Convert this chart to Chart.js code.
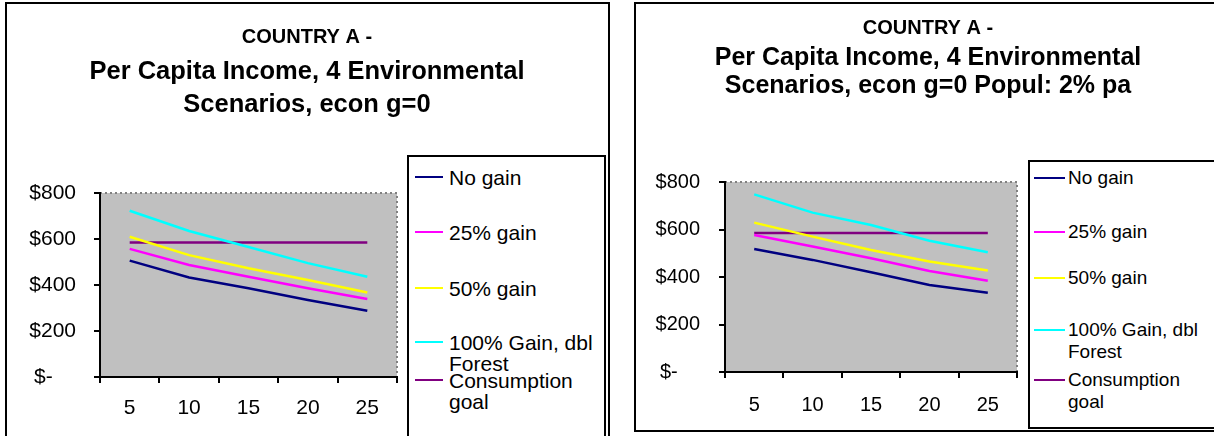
<!DOCTYPE html>
<html>
<head>
<meta charset="utf-8">
<script src="https://cdn.jsdelivr.net/npm/chart.js@4/dist/chart.umd.min.js"></script>
<style>
  html, body { margin: 0; padding: 0; background: #fff; overflow: hidden; }
  body { width: 1214px; height: 436px; position: relative; font-family: "Liberation Sans", Arial, sans-serif; }
  .frame { position: absolute; border: 2px solid #000; box-sizing: border-box; }
  .panel { position: absolute; top: 0; height: 436px; }
  .legend { position: absolute; border: 2px solid #000; background: #fff; box-sizing: border-box; overflow: hidden; }
  .legend .item { position: absolute; display: flex; align-items: flex-start; color: #000; }
  .legend .swatch { height: 2px; flex: none; }
</style>
</head>
<body>
<div class="frame" style="left:5px; top:2px; width:605px; height:460px;"></div>
<div class="panel" style="left:2px; width:610px;"><canvas id="chartA"></canvas></div>
<div class="legend" id="legendA" style="left:407px; top:155px; width:199px; height:300px;"></div>

<div class="frame" style="left:634px; top:2px; width:700px; height:430px;"></div>
<div class="panel" style="left:636px; width:584px;"><canvas id="chartB"></canvas></div>
<div class="legend" id="legendB" style="left:1028px; top:160px; width:300px; height:269px;"></div>

<script>
Chart.defaults.font.family = '"Liberation Sans", Arial, sans-serif';
Chart.defaults.color = '#000';

const years = ['5', '10', '15', '20', '25'];
const tickValues = [0, 200, 400, 600, 800];
const seriesNames = ['No gain', '25% gain', '50% gain', '100% Gain, dbl Forest', 'Consumption goal'];
const seriesColors = ['#000080', '#FF00FF', '#FFFF00', '#00FFFF', '#800080'];

// econ g=0
const noGainA = [506, 433, 386, 335, 288];
const gain25A = [557, 487, 436, 386, 339];
const gain50A = [610, 530, 473, 422, 367];
const gain100A = [723, 635, 565, 495, 436];
const goalA = [585, 585, 585, 585, 585];

// econ g=0, population 2% pa
const noGainB = [518, 472, 420, 366, 334];
const gain25B = [577, 528, 479, 425, 384];
const gain50B = [629, 570, 514, 465, 427];
const gain100B = [748, 671, 619, 553, 504];
const goalB = [585, 585, 585, 585, 585];

// gray plot area with a dotted top and right edge
const plotBackground = {
  id: 'plotBackground',
  beforeDraw(chart) {
    const { ctx, chartArea: a } = chart;
    ctx.save();
    ctx.fillStyle = '#C0C0C0';
    ctx.fillRect(a.left, a.top, a.right - a.left, a.bottom - a.top);
    ctx.strokeStyle = '#808080';
    ctx.lineWidth = 2;
    ctx.setLineDash([2, 3]);
    ctx.beginPath();
    ctx.moveTo(a.left, a.top);
    ctx.lineTo(a.right, a.top);
    ctx.lineTo(a.right, a.bottom);
    ctx.stroke();
    ctx.restore();
  }
};

function buildLegend(chart, el, opt) {
  chart.data.datasets.forEach((ds, i) => {
    const item = document.createElement('div');
    item.className = 'item';
    item.style.left = opt.left + 'px';
    item.style.top = opt.rowTops[i] + 'px';
    item.style.fontSize = opt.fontSize + 'px';
    item.style.lineHeight = opt.lineHeight + 'px';
    const sw = document.createElement('span');
    sw.className = 'swatch';
    sw.style.width = opt.swatch + 'px';
    sw.style.marginRight = opt.gap + 'px';
    sw.style.marginTop = (opt.lineHeight / 2 - 1) + 'px';
    sw.style.background = ds.borderColor;
    const txt = document.createElement('span');
    txt.style.width = opt.textWidth + 'px';
    txt.textContent = ds.label;
    item.appendChild(sw);
    item.appendChild(txt);
    el.appendChild(item);
  });
}

function makeChart(id, series, opt) {
  const canvas = document.getElementById(id);
  return new Chart(canvas, {
    type: 'line',
    data: {
      labels: years,
      datasets: series.map((values, i) => ({
        label: seriesNames[i],
        data: values,
        borderColor: seriesColors[i],
        backgroundColor: seriesColors[i],
        borderWidth: 2.5,
        pointRadius: 0,
        tension: 0,
        fill: false,
      })),
    },
    options: {
      responsive: true,
      maintainAspectRatio: false,
      animation: false,
      layout: { padding: 0 },
      scales: {
        x: {
          type: 'category',
          offset: true,
          grid: { offset: true, drawOnChartArea: false, color: '#000', lineWidth: 2, tickLength: 6 },
          border: { color: '#000', width: 2 },
          ticks: { font: { size: opt.axisFont }, padding: opt.xPad, maxRotation: 0 },
          afterFit(scale) { scale.height = opt.xHeight; },
        },
        y: {
          min: 0,
          max: 800,
          afterBuildTicks(scale) { scale.ticks = tickValues.map((v) => ({ value: v })); },
          grid: { drawOnChartArea: false, color: '#000', lineWidth: 2, tickLength: 6 },
          border: { color: '#000', width: 2 },
          ticks: {
            font: { size: opt.axisFont },
            padding: opt.yPad,
            callback: (v) => (v === 0 ? '$-    ' : '$' + v),
          },
          afterFit(scale) { scale.width = opt.yWidth; },
        },
        // empty right-hand band that leaves room for the legend box
        legendSpace: {
          type: 'linear',
          position: 'right',
          display: true,
          grid: { display: false },
          ticks: { display: false },
          border: { display: false },
          afterFit(scale) { scale.width = opt.rightWidth; },
        },
      },
      plugins: {
        legend: { display: false },
        tooltip: { enabled: false },
        title: {
          display: true,
          text: 'COUNTRY A -',
          font: { size: 20, weight: 'bold', lineHeight: 1.2 },
          padding: { top: opt.titleTop, bottom: 0 },
        },
        subtitle: {
          display: true,
          text: opt.subtitle,
          color: '#000',
          font: { size: opt.subFont, weight: 'bold', lineHeight: opt.subLine },
          padding: { top: opt.subTop, bottom: opt.subBottom },
        },
      },
    },
    plugins: [plotBackground],
  });
}

const chartA = makeChart('chartA', [noGainA, gain25A, gain50A, gain100A, goalA], {
  yWidth: 98, rightWidth: 215, xHeight: 59, axisFont: 21, xPad: 13, yPad: 18,
  titleTop: 25, subtitle: ['Per Capita Income, 4 Environmental', 'Scenarios, econ g=0'],
  subFont: 25.5, subLine: 33 / 25.5, subTop: 6.5, subBottom: 71.5,
});
buildLegend(chartA, document.getElementById('legendA'), {
  left: 6, swatch: 28, gap: 6, fontSize: 21, lineHeight: 21, textWidth: 152,
  rowTops: [9.5, 64.5, 120.5, 174.5, 212.5],
});

const chartB = makeChart('chartB', [noGainB, gain25B, gain50B, gain100B, goalB], {
  yWidth: 89, rightWidth: 203, xHeight: 64, axisFont: 20, xPad: 15, yPad: 19,
  titleTop: 16, subtitle: ['Per Capita Income, 4 Environmental', 'Scenarios, econ g=0 Popul: 2% pa'],
  subFont: 25, subLine: 28 / 25, subTop: 4, subBottom: 82,
});
buildLegend(chartB, document.getElementById('legendB'), {
  left: 4, swatch: 31, gap: 3, fontSize: 19, lineHeight: 22, textWidth: 140,
  rowTops: [5, 59, 105, 157, 207],
});
</script>
</body>
</html>
